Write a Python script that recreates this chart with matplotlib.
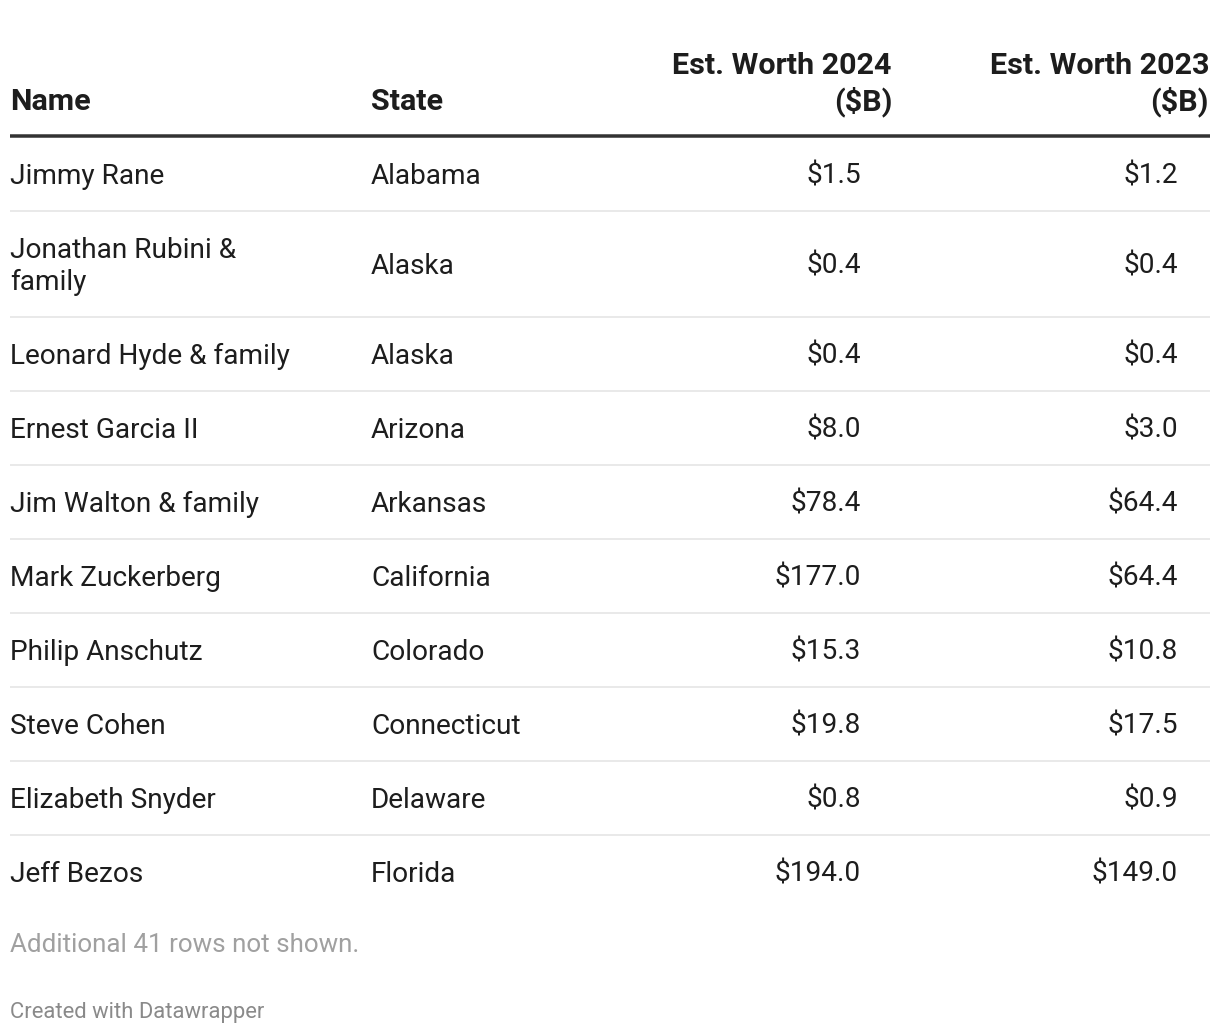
import matplotlib
matplotlib.use("Agg")
import matplotlib.pyplot as plt

plt.rcParams['font.family'] = ['Roboto', 'DejaVu Sans']

# table data
names = ["Jimmy Rane", "Jonathan Rubini &\nfamily", "Leonard Hyde & family",
         "Ernest Garcia II", "Jim Walton & family", "Mark Zuckerberg",
         "Philip Anschutz", "Steve Cohen", "Elizabeth Snyder", "Jeff Bezos"]
states = ["Alabama", "Alaska", "Alaska", "Arizona", "Arkansas", "California",
          "Colorado", "Connecticut", "Delaware", "Florida"]
worth_2024 = [1.5, 0.4, 0.4, 8.0, 78.4, 177.0, 15.3, 19.8, 0.8, 194.0]
worth_2023 = [1.2, 0.4, 0.4, 3.0, 64.4, 64.4, 10.8, 17.5, 0.9, 149.0]
headers = ["Name", "State", "Est. Worth 2024\n($B)", "Est. Worth 2023\n($B)"]
footer_note = "Additional 41 rows not shown."
credit = "Created with Datawrapper"

W, H = 1220, 1034
fig = plt.figure(figsize=(W / 100, H / 100), dpi=100)
ax = fig.add_axes([0, 0, 1, 1])
ax.set_xlim(0, W)
ax.set_ylim(H, 0)
ax.axis("off")

pt = 72 / 100  # px -> pt
fs = 28 * pt
txt = "#1d1d1d"
left, right = 10, 1210
col_x = [10, 371, 892, 1209]
val_x = [861, 1178]
line_h = 32

# header
for i, h in enumerate(headers):
    lines = h.split("\n")
    ha = "left" if i < 2 else "right"
    base = 110 - 36 * (len(lines) - 1)
    for k, ln in enumerate(lines):
        ax.text(col_x[i], base + 36 * k, ln, ha=ha, va="baseline",
                fontsize=30.5 * pt, fontweight="bold", color=txt)
ax.plot([left, right], [136, 136], color="#333333", lw=3.5 * pt,
        solid_capstyle="butt")

# rows
y = 137
for r in range(len(names)):
    nlines = names[r].count("\n") + 1
    rh = 74 + line_h * (nlines - 1)
    c = y + rh / 2
    for k, ln in enumerate(names[r].split("\n")):
        ax.text(col_x[0], c + 10 - line_h * (nlines - 1) / 2 + line_h * k, ln,
                ha="left", va="baseline", fontsize=fs, color=txt)
    ax.text(col_x[1], c + 10, states[r], ha="left", va="baseline",
            fontsize=fs, color=txt)
    ax.text(val_x[0], c + 10, f"${worth_2024[r]:.1f}", ha="right",
            va="baseline", fontsize=fs, color=txt)
    ax.text(val_x[1], c + 10, f"${worth_2023[r]:.1f}", ha="right",
            va="baseline", fontsize=fs, color=txt)
    y += rh
    if r < len(names) - 1:
        ax.plot([left, right], [y, y], color="#e3e3e3", lw=1.5 * pt,
                solid_capstyle="butt")

ax.text(10, 952, footer_note, ha="left", va="baseline", fontsize=26 * pt,
        color="#a0a0a0")
ax.text(10, 1018, credit, ha="left", va="baseline", fontsize=22 * pt,
        color="#8a8a8a")

fig.savefig("out.png", dpi=100, facecolor="white")
